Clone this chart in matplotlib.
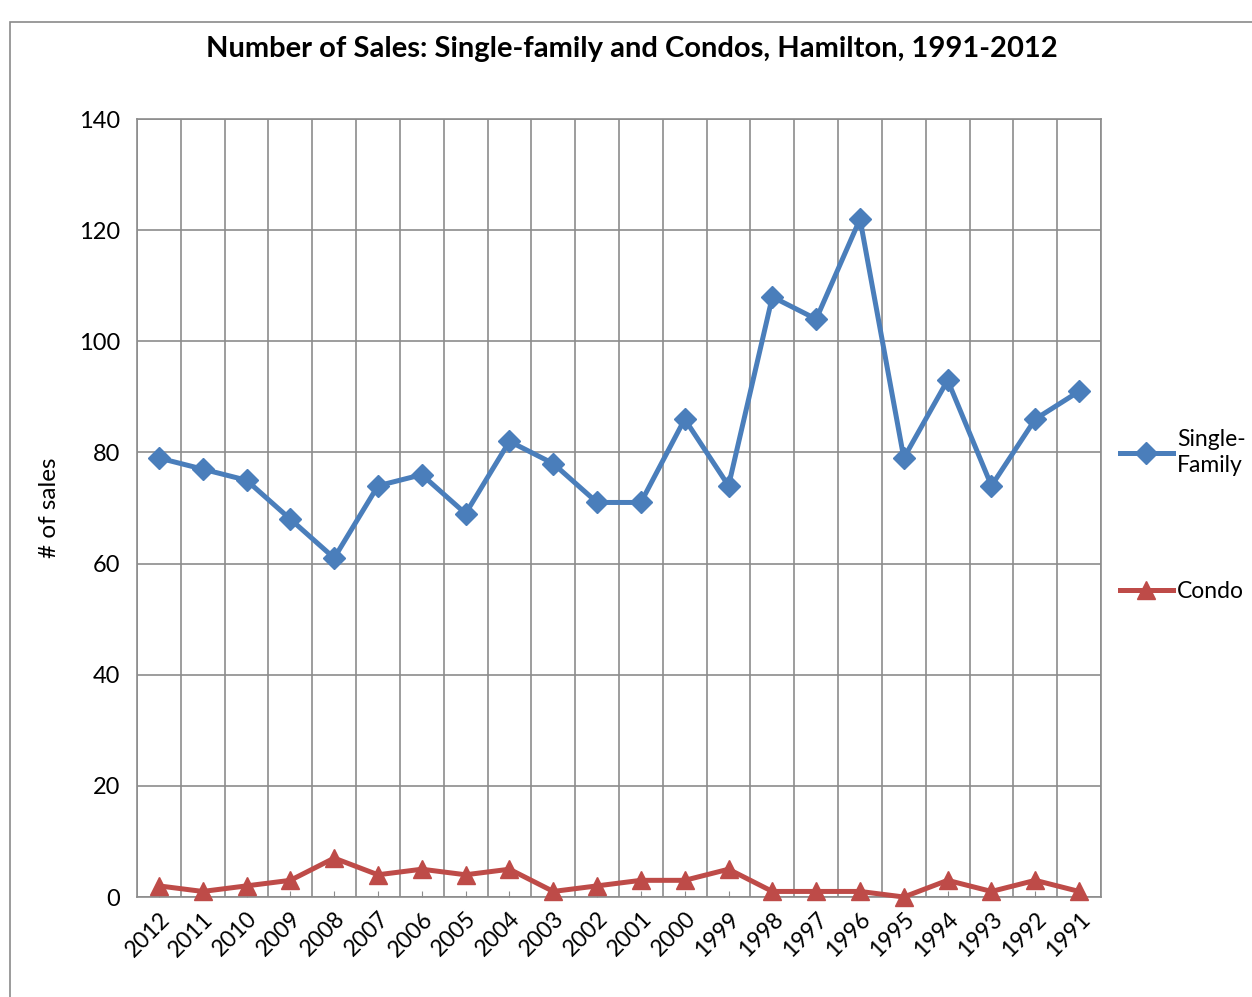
import matplotlib.pyplot as plt
from matplotlib.patches import Rectangle

plt.rcParams['font.family'] = ['Lato', 'DejaVu Sans']

years = ["2012", "2011", "2010", "2009", "2008", "2007", "2006", "2005", "2004", "2003", "2002",
         "2001", "2000", "1999", "1998", "1997", "1996", "1995", "1994", "1993", "1992", "1991"]
single_family = [79, 77, 75, 68, 61, 74, 76, 69, 82, 78, 71, 71, 86, 74, 108, 104, 122, 79, 93, 74, 86, 91]
condo = [2, 1, 2, 3, 7, 4, 5, 4, 5, 1, 2, 3, 3, 5, 1, 1, 1, 0, 3, 1, 3, 1]

blue = '#4a7ebb'
red = '#be4b48'
grid_col = '#8c8c8c'

fig = plt.figure(figsize=(12.52, 9.97), dpi=100)
ax = fig.add_axes([0.1094, 0.1003, 0.7700, 0.7803])

# outer chart border (cut off at the right and bottom)
fig.patches.append(Rectangle((10 / 1252, -0.05), 1.1, (997 - 22) / 997 + 0.05,
                             transform=fig.transFigure, fill=False,
                             edgecolor='#8a8a8a', linewidth=1.2))

x = list(range(len(years)))
ax.plot(x, single_family, color=blue, linewidth=3.6, marker='D', markersize=11.5,
        label='Single-\nFamily', clip_on=False, zorder=3)
ax.plot(x, condo, color=red, linewidth=3.6, marker='^', markersize=13.5,
        label='Condo', clip_on=False, zorder=3)

ax.set_xlim(-0.5, len(years) - 0.5)
ax.set_ylim(0, 140)
ax.set_yticks(range(0, 141, 20))
ax.set_xticks(x)
ax.set_xticklabels(years, rotation=45, ha='right', rotation_mode='anchor')
ax.set_xticks([i - 0.5 for i in range(len(years) + 1)], minor=True)

ax.grid(axis='y', which='major', color=grid_col, linewidth=1.2)
ax.grid(axis='x', which='minor', color=grid_col, linewidth=1.2)
ax.set_axisbelow(True)
ax.tick_params(axis='x', which='major', direction='in', length=4, color=grid_col,
               labelsize=16.5, pad=8)
ax.tick_params(axis='x', which='minor', length=0)
ax.tick_params(axis='y', length=0, labelsize=17, pad=12)
for s in ax.spines.values():
    s.set_color(grid_col)
    s.set_linewidth(1.2)

ax.set_ylabel('# of sales', fontsize=17.5, labelpad=14)
fig.text(632 / 1252, 1 - 49 / 997, 'Number of Sales: Single-family and Condos, Hamilton, 1991-2012',
         ha='center', va='center', fontsize=21, fontweight='bold')

leg = ax.legend(loc='upper left', bbox_to_anchor=(1.01, 0.614), frameon=False, fontsize=16.5,
                handlelength=2.3, handletextpad=0.2, labelspacing=4.55, borderaxespad=0)
for t in leg.get_texts():
    t.set_linespacing(1.35)

fig.savefig('out.png', dpi=100)
